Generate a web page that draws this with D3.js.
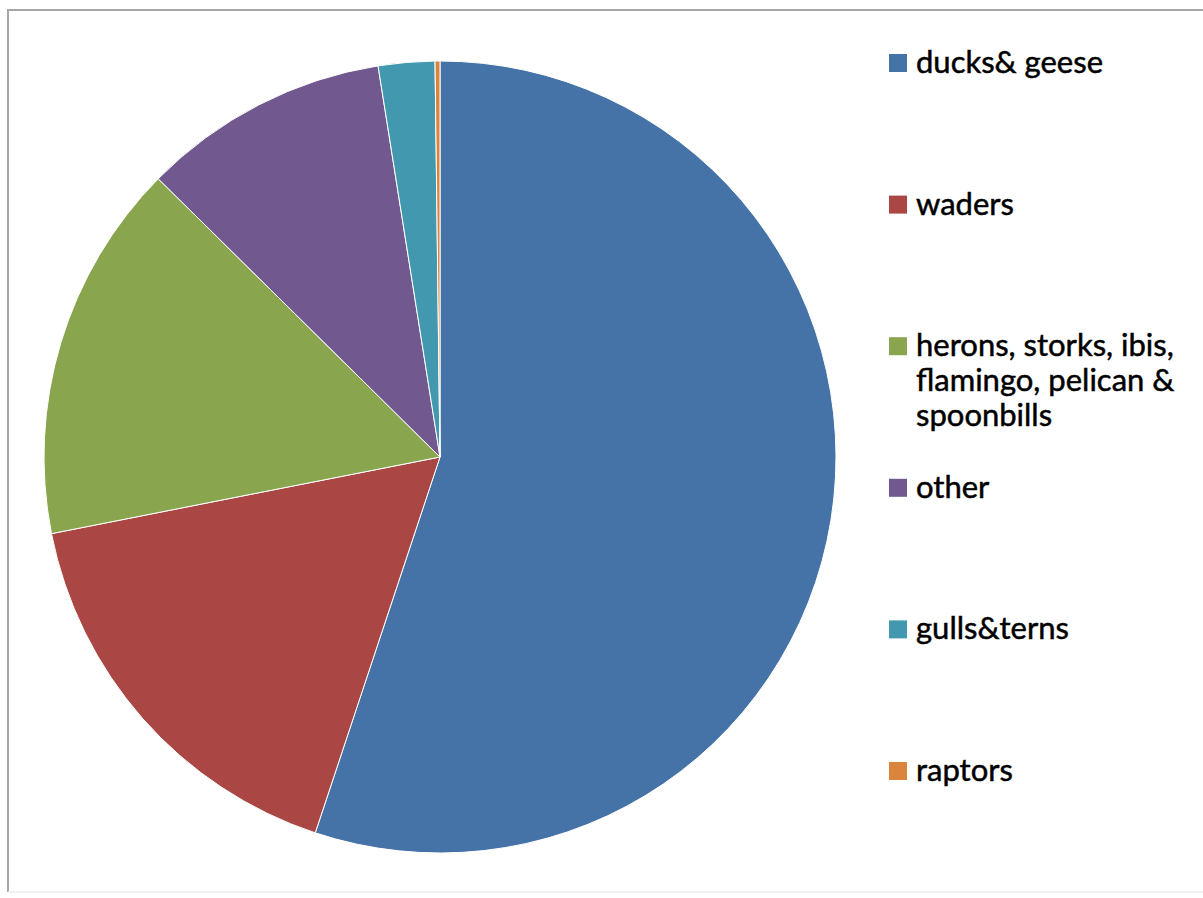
<!DOCTYPE html>
<html>
<head>
<meta charset="utf-8">
<script src="https://cdn.jsdelivr.net/npm/d3@7"></script>
<style>
  html, body { margin: 0; padding: 0; background: #fff; }
  svg { display: block; }
</style>
</head>
<body>
<svg id="chart" width="1203" height="898"></svg>
<script>
// Bird groups and their share of counted waterbirds (%)
const categories = ["ducks& geese", "waders", "herons, storks, ibis, flamingo, pelican & spoonbills", "other", "gulls&terns", "raptors"];
const legendLines = [["ducks& geese"], ["waders"], ["herons, storks, ibis,", "flamingo, pelican &", "spoonbills"], ["other"], ["gulls&terns"], ["raptors"]];
const shares = [55.1, 16.8, 15.5, 10.1, 2.3, 0.2];
const colors = ["#4572A7", "#AA4643", "#89A54E", "#71588F", "#4198AF", "#DB843D"];

const svg = d3.select("#chart");
const W = 1203, H = 898;

// chart-area frame
svg.append("line").attr("x1", 8).attr("y1", 10).attr("x2", W).attr("y2", 10)
  .attr("stroke", "#a6a6a6").attr("stroke-width", 2);
svg.append("line").attr("x1", 8).attr("y1", 9).attr("x2", 8).attr("y2", 892)
  .attr("stroke", "#a6a6a6").attr("stroke-width", 2);
svg.append("line").attr("x1", 8).attr("y1", 892).attr("x2", W).attr("y2", 892)
  .attr("stroke", "#ececec").attr("stroke-width", 1.5);

const cx = 440, cy = 457, radius = 396;

const pie = d3.pie().sort(null).value(d => d);
const arc = d3.arc().innerRadius(0).outerRadius(radius);
const color = d3.scaleOrdinal().domain(categories).range(colors);

const g = svg.append("g").attr("transform", `translate(${cx},${cy})`);
g.selectAll("path")
  .data(pie(shares))
  .join("path")
  .attr("d", arc)
  .attr("fill", (d, i) => color(categories[i]))
  .attr("stroke", "#ffffff")
  .attr("stroke-width", 1)
  .attr("stroke-linejoin", "round");

// legend
const ly = d3.scaleLinear().domain([0, categories.length - 1]).range([63, 771]);
const legend = svg.append("g").attr("font-family", "Lato, 'Open Sans', sans-serif")
  .attr("font-size", 31).attr("fill", "#000")
  .attr("stroke", "#000").attr("stroke-width", 0.5);
const items = legend.selectAll("g")
  .data(categories)
  .join("g")
  .attr("transform", (d, i) => `translate(889,${ly(i)})`);
items.append("rect")
  .attr("x", 0).attr("y", -9).attr("width", 18).attr("height", 18)
  .attr("stroke", "none")
  .attr("fill", d => color(d));
items.append("text")
  .attr("x", 27).attr("y", 10)
  .selectAll("tspan")
  .data((d, i) => legendLines[i])
  .join("tspan")
  .attr("x", 27)
  .attr("dy", (d, j) => j === 0 ? 0 : 35)
  .text(d => d);
</script>
</body>
</html>
